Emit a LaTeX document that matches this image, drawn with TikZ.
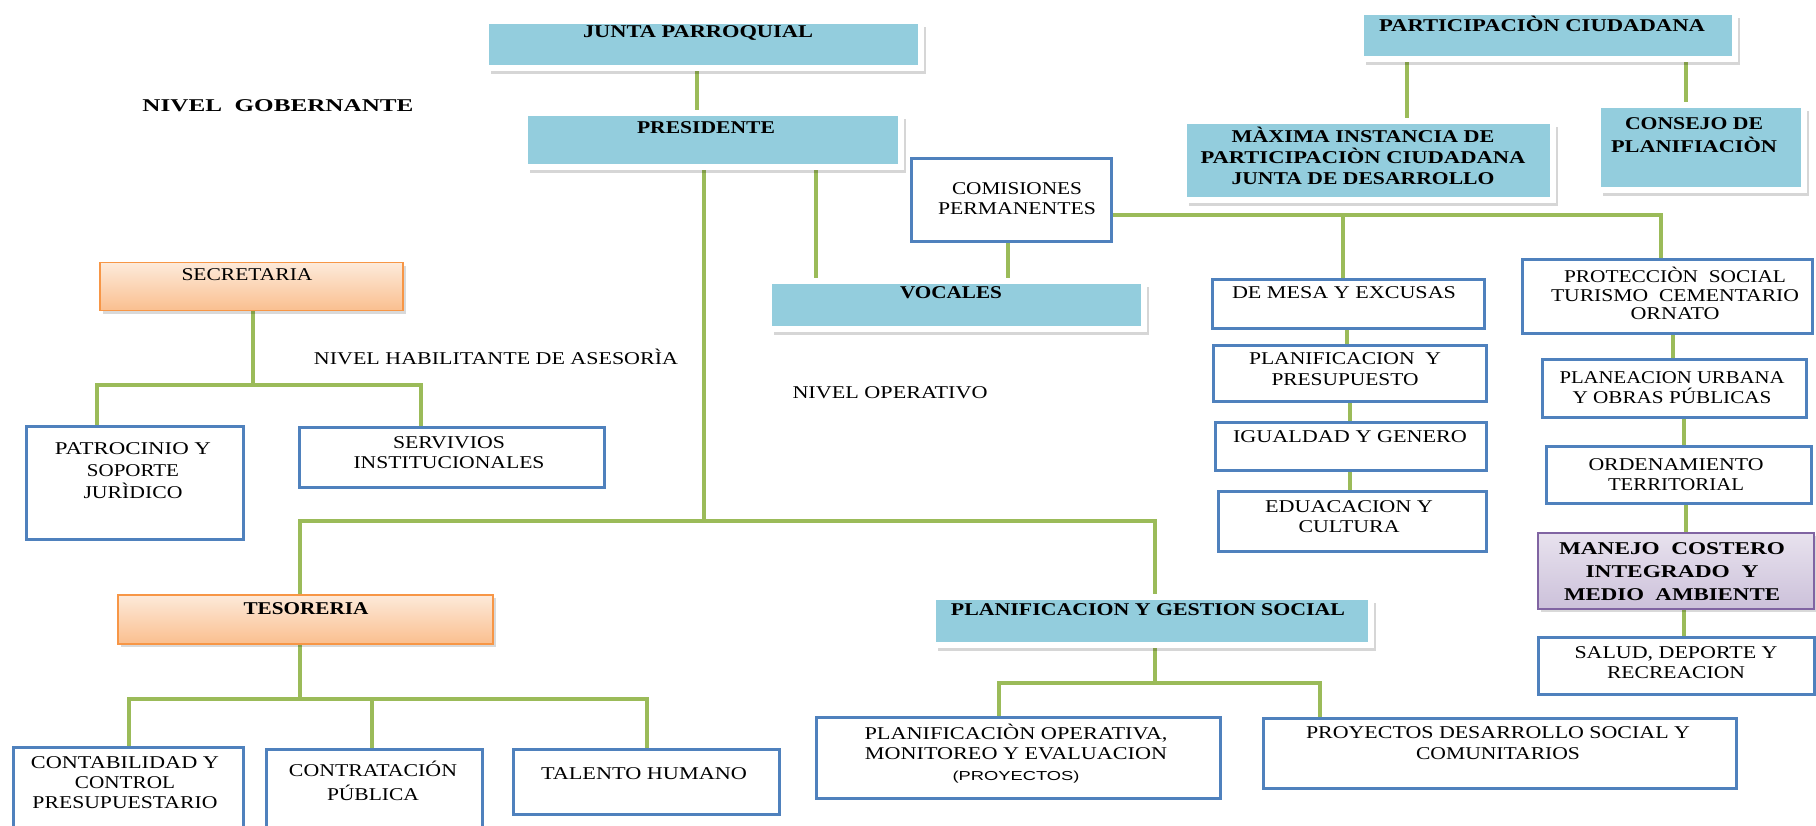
\documentclass[tikz,border=0pt]{standalone}
\usepackage{fontspec}
\usepackage{graphicx}
\setmainfont{Liberation Serif}
\newfontfamily\psans{Liberation Sans}
\usetikzlibrary{shadows,backgrounds}
\definecolor{bfill}{RGB}{147,205,221}
\definecolor{bline}{RGB}{79,129,189}
\definecolor{gline}{RGB}{155,187,89}
\definecolor{otop}{RGB}{253,234,218}
\definecolor{obot}{RGB}{250,191,143}
\definecolor{oline}{RGB}{247,150,70}
\definecolor{ptop}{RGB}{232,226,238}
\definecolor{pbot}{RGB}{204,193,218}
\definecolor{pline}{RGB}{128,100,162}
\newcommand\fw[2]{\resizebox{#1pt}{\height}{#2}}
\newcommand\mkbox[6]{\node[#1, minimum width={(#5-#3)*1pt}, minimum height={(#6-#4)*1pt}, anchor=north west] (#2) at (#3,#4) {};}
\tikzset{
  conn/.style={draw=gline, line width=4pt},
  bbox/.style={fill=bfill, draw=white, line width=6pt, inner sep=0pt,
    drop shadow={shadow xshift=5pt, shadow yshift=-6pt, opacity=0.16, fill=black}},
  wbox/.style={fill=white, draw=bline, line width=3pt, inner sep=0pt},
  obox/.style={top color=otop, bottom color=obot, draw=oline, line width=1.5pt, inner sep=0pt,
    drop shadow={shadow xshift=3pt, shadow yshift=-3pt, opacity=0.15, fill=black}},
  pbox/.style={top color=ptop, bottom color=pbot, draw=pline, line width=1.5pt, inner sep=0pt,
    drop shadow={shadow xshift=3pt, shadow yshift=-3pt, opacity=0.15, fill=black}},
  txt/.style={inner sep=0pt, align=center, font=\fontsize{18}{20}\selectfont},
  btxt/.style={inner sep=0pt, align=center, font=\fontsize{18}{22}\selectfont\bfseries},
}
\begin{document}
\begin{tikzpicture}[x=1pt, y=-1pt]
\clip (0,0) rectangle (1816,826);

% blue boxes
\mkbox{bbox}{junta}{483}{18}{918}{65}
\mkbox{bbox}{pres}{522}{110}{898}{164}
\mkbox{bbox}{voc}{766}{278}{1141}{326}
\mkbox{bbox}{partic}{1358}{9}{1732}{56}
\mkbox{bbox}{maxima}{1181}{118}{1550}{197}
\mkbox{bbox}{consejo}{1595}{102}{1801}{187}
\mkbox{bbox}{pgs}{930}{594}{1368}{642}
% orange and purple boxes
\mkbox{obox}{sec}{99}{262}{402}{310}
\mkbox{obox}{tes}{117}{594}{492}{643}
\mkbox{pbox}{manejo}{1537}{532}{1813}{608}
% white boxes
\mkbox{wbox}{pat}{25}{425}{242}{538}
\mkbox{wbox}{serv}{298}{426}{603}{486}
\mkbox{wbox}{contab}{12}{746}{242}{840}
\mkbox{wbox}{contrat}{265}{748}{481}{840}
\mkbox{wbox}{tal}{512}{748}{778}{813}
\mkbox{wbox}{planop}{815}{716}{1219}{797}
\mkbox{wbox}{proy}{1262}{717}{1735}{787}
\mkbox{wbox}{com}{910}{157}{1110}{240}
\mkbox{wbox}{mesa}{1211}{278}{1483}{327}
\mkbox{wbox}{ppres}{1212}{344}{1485}{400}
\mkbox{wbox}{igual}{1214}{421}{1485}{469}
\mkbox{wbox}{educ}{1217}{490}{1485}{550}
\mkbox{wbox}{prot}{1521}{258}{1811}{332}
\mkbox{wbox}{plane}{1541}{358}{1805}{416}
\mkbox{wbox}{orden}{1545}{445}{1810}{502}
\mkbox{wbox}{salud}{1537}{636}{1813}{693}

% connectors
\begin{pgfonlayer}{background}
\fill[white] (0,0) rectangle (1816,826);
\draw[conn] (junta.south -| 697,0) -- (pres.north -| 697,0);
\coordinate (hub) at (704,521);
\draw[conn] (pres.south -| hub) -- (hub);
\draw[conn] (tes.north -| 300,0) |- (hub) -| (pgs.north -| 1155,0);
\draw[conn] (pres.south -| 816,0) -- (voc.north -| 816,0);
\draw[conn] (com.south -| 1008,0) -- (voc.north -| 1008,0);
\coordinate (cbr) at (1343,215);
\draw[conn] (com.east |- cbr) -| (prot.north -| 1661,0);
\draw[conn] (cbr) -- (mesa.north -| cbr);
\draw[conn] (mesa.south -| 1347,0) -- (ppres.north -| 1347,0);
\draw[conn] (ppres.south -| 1350,0) -- (igual.north -| 1350,0);
\draw[conn] (igual.south -| 1350,0) -- (educ.north -| 1350,0);
\draw[conn] (partic.south -| 1407,0) -- (maxima.north -| 1407,0);
\draw[conn] (partic.south -| 1686,0) -- (consejo.north -| 1686,0);
\draw[conn] (prot.south -| 1673,0) -- (plane.north -| 1673,0);
\draw[conn] (plane.south -| 1684,0) -- (orden.north -| 1684,0);
\draw[conn] (orden.south -| 1686,0) -- (manejo.north -| 1686,0);
\draw[conn] (manejo.south -| 1684,0) -- (salud.north -| 1684,0);
\coordinate (shub) at (253,385);
\draw[conn] (sec.south -| shub) -- (shub);
\draw[conn] (pat.north -| 97,0) |- (shub) -| (serv.north -| 421,0);
\coordinate (thub) at (300,699);
\draw[conn] (tes.south -| thub) -- (thub);
\draw[conn] (contab.north -| 129,0) |- (thub) -| (tal.north -| 647,0);
\coordinate (tc) at (372,699);
\draw[conn] (tc) -- (contrat.north -| tc);
\coordinate (phub) at (1155,683);
\draw[conn] (pgs.south -| phub) -- (phub);
\draw[conn] (planop.north -| 999,0) |- (phub) -| (proy.north -| 1320,0);
\end{pgfonlayer}

% texts
\node[btxt] (tjunta) at (698,33) {\fw{230}{JUNTA PARROQUIAL}};
\node[btxt] (tgob) at (278,106) {\fw{271}{NIVEL\ \ GOBERNANTE}};
\node[btxt] (tpres) at (706,128) {\fw{138}{PRESIDENTE}};
\node[txt] (tsec) at (247,275) {\fw{131}{SECRETARIA}};
\node[txt] (thab) at (496,357) {\fw{364}{NIVEL HABILITANTE DE ASESORÌA}};
\node[txt] (topv) at (890,393) {\fw{195}{NIVEL OPERATIVO}};
\node[txt, font=\fontsize{18}{22}\selectfont] (tpat) at (133,471) {\fw{156}{PATROCINIO Y}\\\fw{92}{SOPORTE}\\\fw{99}{JURÌDICO}};
\node[txt] (tserv) at (449,453) {\fw{112}{SERVIVIOS}\\\fw{191}{INSTITUCIONALES}};
\node[btxt] (ttes) at (306,609) {\fw{125}{TESORERIA}};
\node[txt] (tcontab) at (125,783) {\fw{188}{CONTABILIDAD Y}\\\fw{100}{CONTROL}\\\fw{185}{PRESUPUESTARIO}};
\node[txt, font=\fontsize{18}{24}\selectfont] (tcontrat) at (373,781) {\fw{168}{CONTRATACIÓN}\\\fw{92}{PÚBLICA}};
\node[txt] (ttal) at (644,774) {\fw{206}{TALENTO HUMANO}};
\node[txt] (tplanop) at (1016,742) {\fw{303}{PLANIFICACIÒN OPERATIVA,}\\\fw{302}{MONITOREO Y EVALUACION}};
\node[inner sep=0pt, font=\psans\fontsize{13}{15}\selectfont] (tproyp) at (1016,777) {\fw{127}{(PROYECTOS)}};
\node[txt, font=\fontsize{18}{21}\selectfont] (tproy) at (1498,743.5) {\fw{384}{PROYECTOS DESARROLLO SOCIAL Y}\\\fw{164}{COMUNITARIOS}};
\node[btxt] (tpgs) at (1148,610) {\fw{394}{PLANIFICACION Y GESTION SOCIAL}};
\node[txt] (tcom) at (1017,199) {\fw{130}{COMISIONES}\\\fw{158}{PERMANENTES}};
\node[btxt] (tvoc) at (951,293) {\fw{102}{VOCALES}};
\node[btxt] (tpartic) at (1542,24) {\fw{326}{PARTICIPACIÒN CIUDADANA}};
\node[btxt, font=\fontsize{18}{21}\selectfont\bfseries] (tmax) at (1363,156) {\fw{263}{MÀXIMA INSTANCIA DE}\\\fw{325}{PARTICIPACIÒN CIUDADANA}\\\fw{263}{JUNTA DE DESARROLLO}};
\node[btxt, font=\fontsize{18}{23}\selectfont\bfseries] (tcons) at (1694,135.5) {\fw{138}{CONSEJO DE}\\\fw{166}{PLANIFIACIÒN}};
\node[txt] (tmesa) at (1344,293) {\fw{224}{DE MESA Y EXCUSAS}};
\node[txt, font=\fontsize{18}{21}\selectfont] (tppres) at (1345,369.5) {\fw{192}{PLANIFICACION\ \ Y}\\\fw{147}{PRESUPUESTO}};
\node[txt] (tigual) at (1350,437) {\fw{234}{IGUALDAD Y GENERO}};
\node[txt] (teduc) at (1349,517) {\fw{168}{EDUACACION Y}\\\fw{101}{CULTURA}};
\node[txt, font=\fontsize{18}{18.5}\selectfont] (tprot) at (1675,293.5) {\fw{222}{PROTECCIÒN\ \ SOCIAL}\\\fw{248}{TURISMO\ \ CEMENTARIO}\\\fw{89}{ORNATO}};
\node[txt] (tplane) at (1672,388) {\fw{225}{PLANEACION URBANA}\\\fw{199}{Y OBRAS PÚBLICAS}};
\node[txt] (torden) at (1676,475) {\fw{175}{ORDENAMIENTO}\\\fw{136}{TERRITORIAL}};
\node[btxt, font=\fontsize{18}{23}\selectfont\bfseries] (tman) at (1672,572) {\fw{226}{MANEJO\ \ COSTERO}\\\fw{173}{INTEGRADO\ \ Y}\\\fw{216}{MEDIO\ \ AMBIENTE}};
\node[txt] (tsal) at (1676,663) {\fw{203}{SALUD, DEPORTE Y}\\\fw{138}{RECREACION}};
\end{tikzpicture}
\end{document}
